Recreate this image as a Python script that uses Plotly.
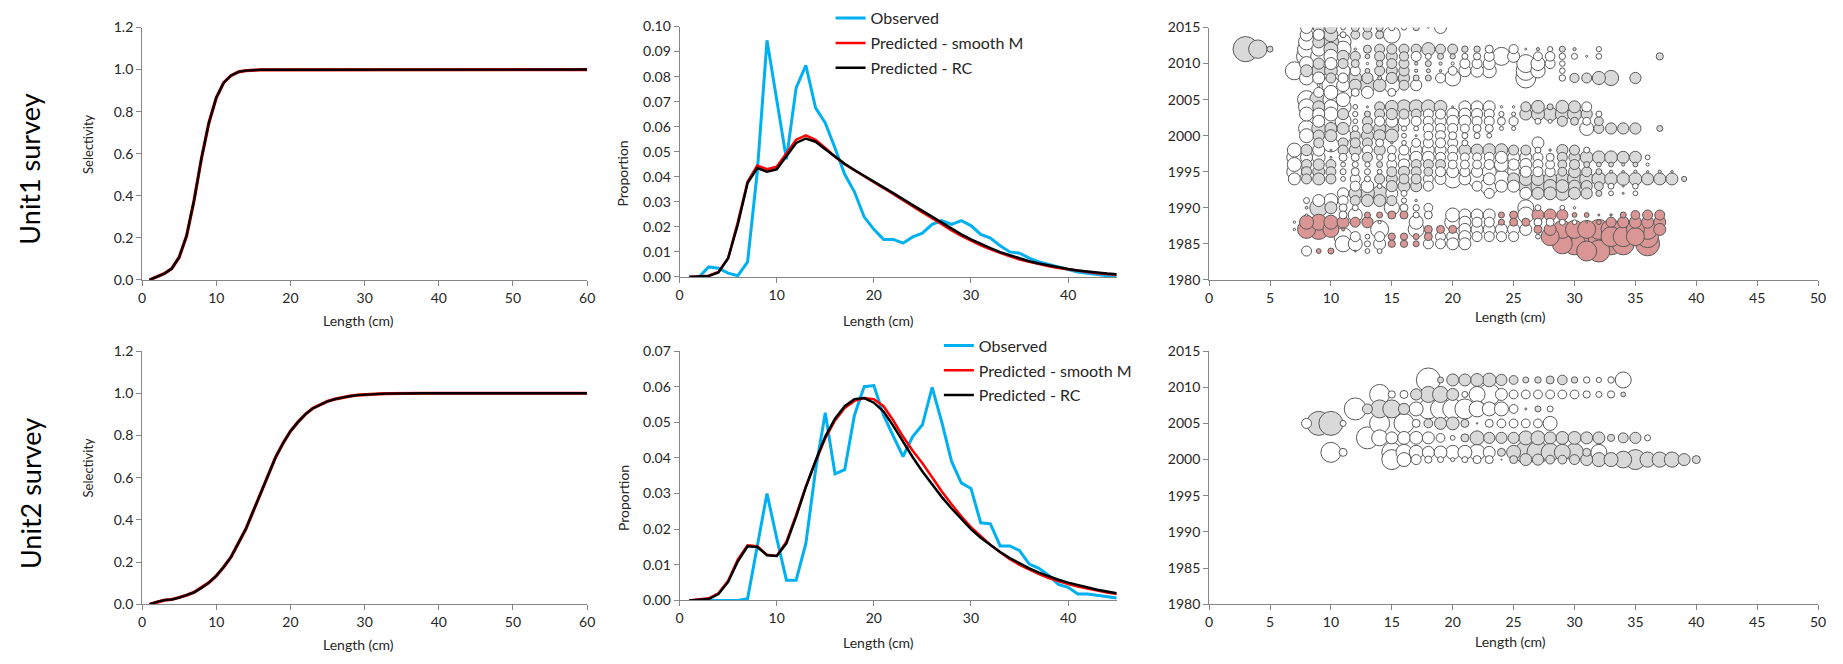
import plotly.graph_objects as go

W, H = 1843, 664
FONT = "Lato"
TXT = "#262626"
AXC = "#868686"

# ---------------- Selectivity (left column) ----------------
LEN_SEL = list(range(1, 61))
SEL_U1 = [0.0, 0.014, 0.03, 0.054, 0.108, 0.21, 0.377, 0.577, 0.746, 0.866,
          0.938, 0.972, 0.989, 0.995, 0.998, 0.999, 0.999, 0.999, 0.999, 1.0,
          1.0, 1.0, 1.0, 1.0, 1.0, 1.0, 1.0, 1.0, 1.0, 1.0,
          1.0, 1.0, 1.0, 1.0, 1.0, 1.0, 1.0, 1.0, 1.0, 1.0,
          1.0, 1.0, 1.0, 1.0, 1.0, 1.0, 1.0, 1.0, 1.0, 1.0,
          1.0, 1.0, 1.0, 1.0, 1.0, 1.0, 1.0, 1.0, 1.0, 1.0]
SEL_U2 = [0.0, 0.012, 0.02, 0.023, 0.032, 0.043, 0.057, 0.078, 0.103, 0.135,
          0.177, 0.225, 0.289, 0.358, 0.443, 0.528, 0.62, 0.697, 0.763, 0.82,
          0.863, 0.9, 0.928, 0.946, 0.962, 0.972, 0.98, 0.986, 0.991, 0.994,
          0.996, 0.997, 0.998, 0.999, 0.999, 1.0, 1.0, 1.0, 1.0, 1.0,
          1.0, 1.0, 1.0, 1.0, 1.0, 1.0, 1.0, 1.0, 1.0, 1.0,
          1.0, 1.0, 1.0, 1.0, 1.0, 1.0, 1.0, 1.0, 1.0, 1.0]

# ---------------- Length compositions (middle column) ----------------
LEN_COMP = list(range(1, 46))
U1_OBS = [0, 0, 0.004, 0.0035, 0.0015, 0.0005, 0.006, 0.042, 0.0945, 0.07,
          0.047, 0.0755, 0.0845, 0.0675, 0.0615, 0.0515, 0.041, 0.034, 0.024, 0.019,
          0.015, 0.015, 0.0135, 0.016, 0.0175, 0.021, 0.0225, 0.021, 0.0225, 0.0205,
          0.017, 0.0155, 0.0125, 0.010, 0.0095, 0.0075, 0.006, 0.005, 0.004, 0.003,
          0.002, 0.0015, 0.001, 0.0005, 0.0003]
U1_SMOOTH = [0, 0.0002, 0.0005, 0.002, 0.0075, 0.022, 0.038, 0.0445, 0.043, 0.044,
             0.0495, 0.0548, 0.0565, 0.0548, 0.0515, 0.048, 0.045, 0.0425, 0.040, 0.0378,
             0.0355, 0.033, 0.0305, 0.0282, 0.0258, 0.0235, 0.021, 0.0186, 0.0164, 0.0144,
             0.0126, 0.011, 0.0095, 0.0082, 0.007, 0.006, 0.0051, 0.0043, 0.0036, 0.003,
             0.0024, 0.0019, 0.0015, 0.0012, 0.0009]
U1_RC = [0, 0.0002, 0.0004, 0.0018, 0.0075, 0.021, 0.0375, 0.0435, 0.042, 0.043,
         0.0485, 0.0535, 0.0553, 0.054, 0.051, 0.048, 0.0452, 0.0427, 0.0403, 0.038,
         0.0358, 0.0335, 0.031, 0.0287, 0.0264, 0.024, 0.0216, 0.0192, 0.017, 0.015,
         0.0131, 0.0115, 0.0099, 0.0086, 0.0074, 0.0063, 0.0054, 0.0046, 0.0039, 0.0032,
         0.0026, 0.0021, 0.0017, 0.0014, 0.0011]
U2_OBS = [0, 0, 0, 0, 0, 0, 0.0005, 0.015, 0.030, 0.0175,
          0.0057, 0.0057, 0.016, 0.0366, 0.0527, 0.0355, 0.0367, 0.052, 0.060, 0.0603,
          0.052, 0.0461, 0.0404, 0.046, 0.0493, 0.0598, 0.050, 0.039, 0.033, 0.0314,
          0.0218, 0.0215, 0.0153, 0.0153, 0.014, 0.0102, 0.009, 0.007, 0.0045, 0.0037,
          0.0018, 0.0018, 0.0014, 0.001, 0.0007]
U2_SMOOTH = [0, 0.0004, 0.0006, 0.002, 0.0055, 0.0115, 0.0155, 0.0152, 0.0128, 0.0125,
             0.0165, 0.024, 0.032, 0.039, 0.0455, 0.0505, 0.054, 0.056, 0.0568, 0.0565,
             0.0545, 0.0505, 0.046, 0.042, 0.0385, 0.0346, 0.0306, 0.027, 0.0236, 0.0206,
             0.018, 0.0156, 0.0135, 0.0116, 0.01, 0.0086, 0.0074, 0.0063, 0.0054, 0.0046,
             0.0039, 0.0033, 0.0027, 0.0022, 0.0018]
U2_RC = [0, 0.0003, 0.0004, 0.0018, 0.0052, 0.011, 0.0152, 0.015, 0.0127, 0.0125,
         0.016, 0.0235, 0.0318, 0.0392, 0.046, 0.051, 0.0545, 0.0565, 0.0568, 0.0555,
         0.053, 0.049, 0.0445, 0.0402, 0.0362, 0.0325, 0.029, 0.0258, 0.0228, 0.02,
         0.0176, 0.0155, 0.0136, 0.0119, 0.0104, 0.009, 0.0078, 0.0067, 0.0058, 0.005,
         0.0043, 0.0036, 0.003, 0.0025, 0.002]

# ---------------- Residual bubbles (right column): (length, residual) per year ----------------
U1_2015 = [(8, -3.0), (9, 2.8), (10, 3.0), (11, -1.2), (12, 2.0), (13, 2.2), (14, 1.8), (15, -1.6), (16, -1.3), (17, 1.6), (18, 0.4), (19, -3.0)]
U1_2014 = [(8, -3.2), (9, -2.8), (10, 3.5), (11, -1.5), (12, 2.2), (13, 2.3), (14, 2.0), (15, -4.2)]
U1_2013 = [(8, -4.0), (9, 3.0), (10, 3.8), (11, -4.0)]
U1_2012 = [(3, 6.3), (4, 4.6), (5, 1.5), (8, -4.5), (9, -3.5), (10, 3.5), (11, -4.0), (12, -0.6), (13, 2.0), (14, 2.5), (15, 2.5), (16, 2.5), (17, 2.5), (18, 3.3), (19, 2.5), (20, 2.5), (21, 1.6), (22, 1.6), (23, -2.0), (25, -2.3), (26, -0.5), (27, 0.8), (28, -1.3), (29, 1.5), (30, 0.8), (32, -1.3)]
U1_2011 = [(8, -5.0), (9, -4.0), (10, -3.5), (11, 3.0), (12, 2.5), (13, 1.2), (14, 2.5), (15, 2.8), (16, 2.3), (17, -2.5), (18, -1.5), (19, 1.5), (20, 1.3), (21, -1.5), (22, -1.8), (23, -2.5), (24, -4.5), (25, -3.0), (27, -2.2), (28, -2.4), (29, -1.6), (30, -1.5), (31, -0.5), (32, -1.4), (37, 1.8)]
U1_2010 = [(8, -3.5), (9, 2.8), (10, -3.0), (11, 2.5), (12, 2.0), (13, -0.6), (14, 1.6), (15, 2.5), (16, 2.5), (17, 0.8), (18, 1.5), (19, 0.8), (20, -0.8), (21, -2.5), (22, -2.5), (23, -3.0), (26, -4.5), (27, -3.5), (28, -2.5), (29, -1.4)]
U1_2009 = [(7, -4.5), (8, 3.0), (9, 3.5), (10, 3.2), (11, -3.5), (12, -2.5), (13, 1.2), (14, 2.5), (15, 2.8), (16, 2.6), (17, 0.8), (18, 1.0), (19, 0.6), (20, -2.2), (21, -3.0), (22, -3.2), (23, -3.5), (26, -4.8), (27, -3.6), (29, -1.4)]
U1_2008 = [(8, -3.5), (9, -3.0), (10, 2.5), (11, -2.5), (12, 3.2), (13, 2.8), (14, 1.0), (15, 2.8), (16, 2.8), (17, 1.5), (18, 1.5), (19, -2.5), (20, -4.0), (26, -5.0), (29, -1.6), (30, 2.3), (31, 2.5), (32, 3.3), (33, 3.8), (35, 2.8)]
U1_2007 = [(9, -0.7), (10, -4.5), (11, -3.2), (12, 3.0), (13, 4.0), (14, 3.2), (15, -4.0), (16, 2.5), (17, -2.8)]
U1_2006 = [(9, -2.5), (10, -3.5), (11, -4.5), (12, -2.0), (13, -3.0), (15, -2.0)]
U1_2005 = [(8, -4.5), (9, 4.5), (10, -4.0), (11, -3.5)]
U1_2004 = [(8, -4.0), (9, 3.0), (10, -3.5), (11, -4.0), (12, -1.2), (13, 0.5), (14, 2.5), (15, 3.2), (16, 3.5), (17, 3.5), (18, 3.5), (19, 3.2), (20, 0.5), (21, -3.0), (22, -3.0), (23, -3.0), (24, -0.6), (25, -0.6), (26, 2.5), (27, 3.2), (28, 1.5), (29, 3.2), (30, 3.0), (31, -2.5)]
U1_2003 = [(8, -3.5), (9, -3.0), (10, -3.5), (11, 2.8), (12, -1.3), (13, 1.5), (14, 2.5), (15, 2.8), (16, 2.5), (17, 2.5), (18, -2.5), (19, -2.5), (20, -3.0), (21, -3.0), (22, -2.8), (23, -2.5), (24, -1.3), (25, -1.0), (26, 3.0), (27, 3.3), (28, 3.5), (29, 3.5), (30, 3.5), (31, 2.8), (32, -1.5)]
U1_2002 = [(9, -3.0), (10, -4.5), (11, -4.0), (12, -1.2), (13, 2.5), (14, -2.5), (15, -3.0), (16, -2.8), (17, -2.5), (18, -2.5), (19, -2.8), (20, -3.0), (21, -3.0), (22, -2.5), (23, -2.5), (24, -2.0), (25, -2.3), (27, -1.5), (28, -1.0), (29, 2.5), (30, 2.0), (31, -2.0), (32, 2.2)]
U1_2001 = [(8, -4.0), (9, 3.5), (10, 3.0), (11, 3.0), (12, -1.5), (13, 2.5), (14, 3.0), (15, 3.5), (16, -1.3), (17, -1.2), (18, -2.5), (19, -2.5), (20, -2.5), (21, -2.2), (22, -2.0), (23, -2.0), (24, -1.0), (25, -1.0), (31, -3.5), (32, 2.5), (33, 2.8), (34, 2.8), (35, 2.8), (37, 1.5)]
U1_2000 = [(8, -3.5), (9, 2.8), (10, 3.0), (11, -4.0), (12, 2.5), (13, 3.0), (14, 3.0), (15, 3.3), (16, -1.2), (17, 0.5), (18, -2.2), (19, -2.5), (20, -2.0), (21, -1.5), (22, -1.5), (23, -1.2)]
U1_1999 = [(9, 2.5), (10, -4.5), (11, 2.5), (12, 2.5), (13, 2.5), (14, -2.0), (15, 0.6), (16, -1.2), (17, -2.2), (18, -2.5), (19, -2.5), (20, -2.5), (21, -1.5), (27, -3.0)]
U1_1998 = [(7, -3.5), (8, 2.8), (9, -3.0), (10, 0.5), (11, 2.5), (12, 3.0), (13, -2.5), (14, 2.8), (15, -2.2), (16, -2.5), (17, -3.0), (18, -3.0), (19, -2.8), (20, -2.5), (21, 3.0), (22, 3.0), (23, 3.2), (24, 3.2), (25, 2.5), (26, 2.5), (27, -1.5), (28, 0.6), (29, 2.8), (30, 2.5), (31, -1.5)]
U1_1997 = [(7, -3.8), (8, -3.0), (9, -3.2), (10, 0.5), (11, -2.0), (12, -2.0), (13, 2.5), (14, -1.5), (15, -2.0), (16, -2.8), (17, -3.0), (18, -3.0), (19, -2.5), (20, -2.5), (21, -2.2), (22, -2.2), (23, -2.5), (24, -3.0), (25, -3.0), (26, -3.0), (27, -2.5), (28, -2.0), (29, 2.5), (30, 2.8), (31, 3.2), (32, 3.2), (33, 3.2), (34, 3.0), (35, 3.0), (36, -1.2)]
U1_1996 = [(7, -3.5), (8, 2.5), (9, 2.8), (10, 2.5), (11, -1.2), (12, -1.5), (13, -1.3), (14, 1.5), (15, -2.5), (16, -2.8), (17, 2.5), (18, 2.5), (19, 2.5), (20, -2.2), (21, -2.2), (22, -2.2), (23, -2.5), (24, -3.5), (25, -2.8), (26, -3.0), (27, -2.5), (28, -2.2), (29, 2.2), (30, 2.5), (31, 1.5), (32, 1.2), (33, 1.2), (34, 0.8), (35, 1.2), (36, -0.8)]
U1_1995 = [(7, -3.8), (8, 2.5), (9, 3.0), (10, 2.5), (11, -1.5), (12, -2.0), (13, -1.5), (14, -1.2), (15, 2.5), (16, 2.8), (17, 2.5), (18, 2.2), (19, -2.5), (20, -3.0), (21, -2.5), (22, -2.8), (23, -3.5), (24, -4.5), (25, -3.0), (26, -2.8), (27, -2.5), (28, -2.5), (29, 2.2), (30, 3.0), (31, 2.5), (32, 1.5), (33, 0.8), (34, 0.6), (35, 0.8), (36, 0.6), (37, 0.8), (38, 0.6)]
U1_1994 = [(7, -3.0), (8, 2.5), (9, 3.0), (10, 2.5), (11, -1.2), (12, -2.5), (13, -1.5), (14, 2.5), (15, 2.8), (16, 2.5), (17, 2.5), (18, -2.5), (19, -2.8), (20, -4.5), (21, -3.0), (22, -4.5), (23, -3.0), (24, -4.2), (25, 3.0), (26, 3.3), (27, 3.3), (28, 3.3), (29, 3.5), (30, 3.5), (31, 3.5), (32, 3.5), (33, 3.2), (34, 3.2), (35, 3.2), (36, 3.0), (37, 3.0), (38, 3.0), (39, 1.3)]
U1_1993 = [(12, -2.5), (13, -3.2), (14, -1.2), (15, 2.8), (16, 3.0), (17, 2.8), (18, -2.5), (22, -2.5), (23, -4.5), (24, -3.0), (25, -3.0), (26, 3.8), (27, 3.5), (28, 3.3), (29, 3.2), (30, 3.0), (31, 2.8), (32, 2.2), (33, -1.5), (34, 0.5), (35, -1.4)]
U1_1992 = [(11, -2.8), (12, 3.2), (13, 3.5), (14, 3.8), (15, -3.0), (16, -1.5), (23, -2.5), (26, -3.0), (27, 3.0), (28, 3.2), (29, 3.5), (30, 3.0), (31, 2.8), (32, 1.5), (33, -1.2), (34, 0.5), (35, -1.2)]
U1_1991 = [(8, -1.5), (9, -3.0), (10, -3.5), (11, -2.5), (12, 2.5), (13, 3.0), (14, 3.0), (15, 2.5), (16, -1.3), (17, 0.6)]
U1_1990 = [(8, 0.7), (9, 4.5), (10, 3.0), (11, -2.0), (12, -1.5), (15, -3.8), (16, -2.0), (17, -1.6), (18, -2.2), (26, -4.0), (27, -1.5), (29, -1.2), (30, -0.6)]
U1_1989 = [(8, -0.6), (11, -2.0), (12, -3.5), (13, 1.5), (14, 1.5), (15, 2.0), (16, 2.0), (17, -1.5), (18, -2.0), (20, -3.5), (21, -3.0), (22, -3.0), (23, -3.0), (24, 1.5), (25, 2.0), (26, -4.0), (27, 3.0), (28, 3.0), (29, 2.8), (30, 1.2), (31, 1.2), (32, 0.5), (33, 0.6), (34, 1.5), (35, 2.2), (36, 2.5), (37, 2.5)]
U1_1988 = [(7, -0.6), (8, 3.5), (9, 4.0), (10, 3.5), (11, 3.0), (12, 2.5), (13, 2.8), (14, -0.8), (17, -3.5), (20, -4.0), (21, -3.0), (22, -2.5), (23, -2.5), (24, 1.5), (25, 2.0), (26, 2.0), (27, -2.0), (28, -2.0), (29, -1.5), (30, -1.2), (31, -0.5), (32, 1.2), (33, 2.5), (34, 2.8), (35, 3.0), (36, 3.0), (37, 3.0)]
U1_1987 = [(7, -0.6), (8, 4.5), (9, 5.0), (10, 4.0), (11, 0.8), (14, -4.5), (17, -4.0), (18, 2.0), (19, 2.0), (20, 2.0), (21, -3.0), (22, -3.0), (23, -3.0), (24, -3.0), (25, -3.0), (26, -3.0), (27, 2.0), (28, 3.0), (29, 4.5), (30, 4.5), (31, 4.5), (32, 5.0), (33, 5.0), (34, 5.0), (35, 4.5), (36, 5.0), (37, 3.0)]
U1_1986 = [(11, -4.5), (12, -2.5), (13, -1.2), (14, -2.5), (15, 1.8), (16, 1.8), (17, 1.5), (18, 2.0), (19, -2.5), (20, -3.0), (21, -3.0), (22, -2.5), (23, -2.5), (24, -2.5), (25, -2.5), (27, -1.2), (28, 4.5), (29, 5.0), (30, 5.5), (31, 5.5), (32, 5.5), (33, 5.0), (34, 5.0), (35, 4.5), (36, 5.5)]
U1_1985 = [(11, -4.0), (12, -3.5), (13, -1.5), (14, -3.0), (15, 1.8), (16, 1.8), (17, 1.5), (18, -2.5), (19, -2.5), (20, -3.0), (21, -3.0), (29, 5.0), (30, 5.5), (31, 6.0), (32, 6.0), (33, 5.5), (34, 5.5), (36, 6.0)]
U1_1984 = [(8, -2.5), (9, 1.2), (10, 1.5), (12, 0.5), (13, -1.2), (14, -1.2), (31, 5.0), (32, 5.5)]

U2_2011 = [(18, -6.0), (19, 1.5), (20, 3.0), (21, 3.0), (22, 3.2), (23, 3.4), (24, 2.8), (25, 2.2), (26, 1.5), (27, 1.6), (28, 2.0), (29, 2.4), (30, 1.6), (31, -1.6), (32, -1.3), (33, -1.6), (34, -4.0)]
U2_2009 = [(14, -5.0), (15, -1.8), (16, -2.0), (17, 2.8), (18, 4.0), (19, 4.0), (20, 3.0), (21, -1.5), (22, -4.0), (23, -5.5), (24, -3.0), (25, -2.2), (26, -2.2), (27, -2.2), (28, -2.2), (29, -2.2), (30, -2.2), (31, -1.8), (32, -1.5), (33, -1.8), (34, 1.2)]
U2_2007 = [(12, -5.5), (13, 2.5), (14, 4.5), (15, 4.5), (16, 2.8), (17, -3.5), (18, -5.0), (19, -5.0), (20, -5.0), (21, -5.0), (22, -4.0), (23, -3.5), (24, -3.5), (25, -2.2), (26, 0.5), (27, 1.5), (28, -1.5)]
U2_2005 = [(8, -2.5), (9, 6.0), (10, 6.0), (11, -1.5), (14, -5.0), (16, -5.0), (17, -2.0), (18, 2.2), (19, 3.0), (20, 3.2), (21, 2.0), (22, 0.4), (23, -2.0), (24, -2.2), (25, -2.2), (26, -2.2), (27, -2.2), (28, -3.5)]
U2_2003 = [(13, -5.5), (14, -4.0), (15, -3.0), (16, -3.2), (17, -3.2), (18, -3.0), (19, -2.2), (20, -1.2), (21, 2.0), (22, 3.5), (23, 2.8), (24, 2.8), (25, 2.8), (26, 3.5), (27, 3.5), (28, 3.0), (29, 3.2), (30, 3.2), (31, 3.0), (32, 3.0), (33, 1.8), (34, 2.5), (35, 2.8), (36, -1.5)]
U2_2001 = [(10, -5.0), (11, -2.0), (15, -5.0), (16, -4.0), (17, -3.5), (18, -3.0), (19, -3.2), (20, -3.5), (21, -3.5), (22, -4.0), (23, -3.0), (24, 2.0), (25, 3.5), (26, 5.5), (27, 5.5), (28, 4.5), (29, 4.0), (30, 4.5), (31, 2.0), (32, -4.0)]
U2_2000 = [(15, -5.0), (16, -3.5), (17, -2.5), (18, -1.8), (19, -1.5), (20, -1.0), (21, -1.5), (22, -2.0), (23, -2.0), (24, -0.3), (25, 2.0), (26, 3.0), (27, 2.8), (28, 2.2), (29, 2.2), (30, 2.5), (31, 3.0), (32, 3.5), (33, 3.5), (34, 4.2), (35, 5.0), (36, 3.8), (37, 3.8), (38, 3.8), (39, 3.0), (40, 2.0)]

U1_ROWS = [(2015, U1_2015), (2014, U1_2014), (2013, U1_2013), (2012, U1_2012), (2011, U1_2011),
           (2010, U1_2010), (2009, U1_2009), (2008, U1_2008), (2007, U1_2007), (2006, U1_2006),
           (2005, U1_2005), (2004, U1_2004), (2003, U1_2003), (2002, U1_2002), (2001, U1_2001),
           (2000, U1_2000), (1999, U1_1999), (1998, U1_1998), (1997, U1_1997), (1996, U1_1996),
           (1995, U1_1995), (1994, U1_1994), (1993, U1_1993), (1992, U1_1992), (1991, U1_1991),
           (1990, U1_1990), (1989, U1_1989), (1988, U1_1988), (1987, U1_1987), (1986, U1_1986),
           (1985, U1_1985), (1984, U1_1984)]
U2_ROWS = [(2011, U2_2011), (2009, U2_2009), (2007, U2_2007), (2005, U2_2005),
           (2003, U2_2003), (2001, U2_2001), (2000, U2_2000)]

# ---------------- layout geometry (pixels) ----------------
def xd(a, b):
    return [a / W, b / W]


def yd(top, bottom):
    return [1 - bottom / H, 1 - top / H]


COLX = {"L": (139, 587), "M": (680, 1120), "R": (1213, 1826)}
ROWY_LR = {"top": (19, 278), "bot": (351, 611)}
ROWY_M = {"top": (18, 275), "bot": (351, 607)}


def ax(**kw):
    base = dict(showline=True, linecolor=AXC, linewidth=1, ticks="outside", ticklen=5,
                tickcolor=AXC, tickwidth=1, showgrid=False, zeroline=False,
                tickfont=dict(family=FONT, size=14, color=TXT), fixedrange=True)
    base.update(kw)
    return base


fig = go.Figure()

# Selectivity curves
for sel, xa, ya in [(SEL_U1, "x", "y"), (SEL_U2, "x4", "y4")]:
    fig.add_trace(go.Scatter(x=LEN_SEL, y=sel, mode="lines", xaxis=xa, yaxis=ya,
                             line=dict(color="#FF0000", width=3.2), showlegend=False, hoverinfo="skip"))
    fig.add_trace(go.Scatter(x=LEN_SEL, y=sel, mode="lines", xaxis=xa, yaxis=ya,
                             line=dict(color="#000000", width=2.4), showlegend=False, hoverinfo="skip"))

# Length compositions
for obs, smo, rc, xa, ya, lg in [(U1_OBS, U1_SMOOTH, U1_RC, "x2", "y2", "legend"),
                                 (U2_OBS, U2_SMOOTH, U2_RC, "x5", "y5", "legend2")]:
    fig.add_trace(go.Scatter(x=LEN_COMP, y=obs, mode="lines", name="Observed", xaxis=xa, yaxis=ya,
                             legend=lg, legendgroup=lg + "a",
                             line=dict(color="#00B0F0", width=3), hoverinfo="skip"))
    fig.add_trace(go.Scatter(x=LEN_COMP, y=smo, mode="lines", name="Predicted - smooth M", xaxis=xa, yaxis=ya,
                             legend=lg, legendgroup=lg + "b",
                             line=dict(color="#FF0000", width=2.5), hoverinfo="skip"))
    fig.add_trace(go.Scatter(x=LEN_COMP, y=rc, mode="lines", name="Predicted - RC", xaxis=xa, yaxis=ya,
                             legend=lg, legendgroup=lg + "c",
                             line=dict(color="#000000", width=2.5), hoverinfo="skip"))


# Bubble plots
def bubbles(rows, xa, ya):
    pts = []
    for year, row in rows:
        for length, res in row:
            pts.append((abs(res), length, year, res))
    pts.sort(key=lambda p: -p[0])
    cols = []
    for _, _, year, res in pts:
        if res > 0:
            cols.append("#D99694" if year < 1990 else "#D9D9D9")
        else:
            cols.append("#FFFFFF")
    return go.Scatter(x=[p[1] for p in pts], y=[p[2] for p in pts], mode="markers",
                      xaxis=xa, yaxis=ya, showlegend=False, hoverinfo="skip",
                      marker=dict(size=[p[0] for p in pts], sizemode="diameter", sizeref=0.25,
                                  color=cols, opacity=1,
                                  line=dict(color="#5A5A5A", width=1)))


fig.add_trace(bubbles(U1_ROWS, "x3", "y3"))
fig.add_trace(bubbles(U2_ROWS, "x6", "y6"))

layout = dict(
    width=W, height=H, margin=dict(l=0, r=0, t=0, b=0),
    paper_bgcolor="white", plot_bgcolor="white",
    font=dict(family=FONT, color=TXT),
    xaxis=ax(domain=xd(*COLX["L"]), range=[0, 60], dtick=10, anchor="y"),
    yaxis=ax(domain=yd(*ROWY_LR["top"]), range=[0, 1.2], dtick=0.2, tickformat=".1f", anchor="x"),
    xaxis4=ax(domain=xd(*COLX["L"]), range=[0, 60], dtick=10, anchor="y4"),
    yaxis4=ax(domain=yd(*ROWY_LR["bot"]), range=[0, 1.2], dtick=0.2, tickformat=".1f", anchor="x4"),
    xaxis2=ax(domain=xd(*COLX["M"]), range=[0, 45], tickvals=[0, 10, 20, 30, 40], anchor="y2"),
    yaxis2=ax(domain=yd(*ROWY_M["top"]), range=[0, 0.1], dtick=0.01, tickformat=".2f", anchor="x2"),
    xaxis5=ax(domain=xd(*COLX["M"]), range=[0, 45], tickvals=[0, 10, 20, 30, 40], anchor="y5"),
    yaxis5=ax(domain=yd(*ROWY_M["bot"]), range=[0, 0.07], dtick=0.01, tickformat=".2f", anchor="x5"),
    xaxis3=ax(domain=xd(*COLX["R"]), range=[0, 50], dtick=5, anchor="y3"),
    yaxis3=ax(domain=yd(*ROWY_LR["top"]), range=[1980, 2015], dtick=5, anchor="x3"),
    xaxis6=ax(domain=xd(*COLX["R"]), range=[0, 50], dtick=5, anchor="y6"),
    yaxis6=ax(domain=yd(*ROWY_LR["bot"]), range=[1980, 2015], dtick=5, anchor="x6"),
    legend=dict(x=832 / W, y=1 + 8 / H, xanchor="left", yanchor="top", bgcolor="rgba(0,0,0,0)",
                font=dict(family=FONT, size=16, color=TXT), tracegroupgap=1, itemwidth=30),
    legend2=dict(x=941 / W, y=1 - 328 / H, xanchor="left", yanchor="top", bgcolor="rgba(0,0,0,0)",
                 font=dict(family=FONT, size=16, color=TXT), tracegroupgap=1, itemwidth=30),
)


def ann(text, x, y, size, angle=0):
    return dict(text=text, x=x / W, y=1 - y / H, xref="paper", yref="paper", showarrow=False,
                textangle=angle, font=dict(family=FONT, size=size, color="#000000" if size > 20 else TXT),
                xanchor="center", yanchor="middle")


layout["annotations"] = [
    ann("Unit1 survey", 26, 164, 27, -90),
    ann("Unit2 survey", 26, 497, 27, -90),
    ann("Selectivity", 85, 138, 13, -90),
    ann("Selectivity", 85, 470, 13, -90),
    ann("Proportion", 623, 169, 14, -90),
    ann("Proportion", 623, 502, 14, -90),
    ann("Length (cm)", 357, 320, 14),
    ann("Length (cm)", 357, 652, 14),
    ann("Length (cm)", 880, 320, 14),
    ann("Length (cm)", 880, 650, 14),
    ann("Length (cm)", 1516, 316, 14),
    ann("Length (cm)", 1516, 649, 14),
]

fig.update_layout(**layout)
fig.write_html("out.html")
